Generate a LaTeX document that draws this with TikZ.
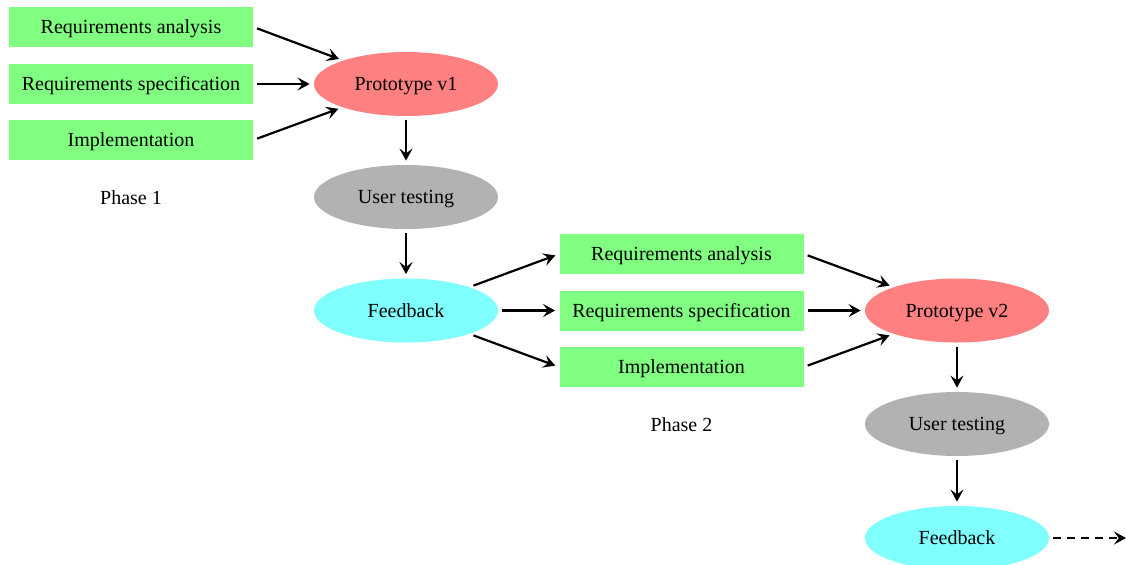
\documentclass[tikz,border=0pt]{standalone}
\usepackage{fontspec}
\setmainfont{Liberation Serif}
\usetikzlibrary{shapes.geometric,arrows.meta}
\definecolor{boxgreen}{RGB}{128,255,128}
\definecolor{protored}{RGB}{255,128,128}
\definecolor{testgray}{RGB}{178,178,178}
\definecolor{feedcyan}{RGB}{128,255,255}
\tikzset{
  px/.style={x=0.5pt,y=-0.5pt},
  txt/.style={font=\fontsize{10}{12}\selectfont,text height=7.6pt,text depth=1pt},
  stepbox/.style={rectangle,fill=boxgreen,minimum width=122pt,minimum height=20pt,inner sep=0pt,txt},
  blob/.style={ellipse,minimum width=92pt,minimum height=32pt,inner sep=0pt,txt},
  proto/.style={blob,fill=protored},
  utest/.style={blob,fill=testgray},
  fback/.style={blob,fill=feedcyan},
  phase/.style={txt},
  conn/.style={-{Stealth[length=6pt,width=6.5pt,inset=2.4pt]},line width=1.1pt,shorten <=2pt,shorten >=2pt}
}
\begin{document}
\begin{tikzpicture}[px]
\useasboundingbox (0,0) rectangle (1126,564);
% Phase 1
\node[stepbox] (ra1) at (131,27) {Requirements analysis};
\node[stepbox] (rs1) at (131,84) {Requirements specification};
\node[stepbox] (im1) at (131,140) {Implementation};
\node[phase] (ph1) at (131,198) {Phase 1};
\node[proto] (p1) at (406,84) {Prototype v1};
\node[utest] (u1) at (406,197) {User testing};
\node[fback] (f1) at (406,310.5) {Feedback};
% Phase 2
\node[stepbox] (ra2) at (681.5,254) {Requirements analysis};
\node[stepbox] (rs2) at (681.5,310.5) {Requirements specification};
\node[stepbox] (im2) at (681.5,367) {Implementation};
\node[phase] (ph2) at (681.5,425) {Phase 2};
\node[proto] (p2) at (957,310.5) {Prototype v2};
\node[utest] (u2) at (957,424) {User testing};
\node[fback] (f2) at (957,538) {Feedback};
\coordinate (next) at (1127,538);
% connectors
\draw[conn] (ra1.east) -- (p1);
\draw[conn] (rs1.east) -- (p1);
\draw[conn] (im1.east) -- (p1);
\draw[conn] (p1) -- (u1);
\draw[conn] (u1) -- (f1);
\draw[conn] (f1) -- (ra2.west);
\draw[conn] (f1) -- (rs2.west);
\draw[conn] (f1) -- (im2.west);
\draw[conn] (ra2.east) -- (p2);
\draw[conn] (rs2.east) -- (p2);
\draw[conn] (im2.east) -- (p2);
\draw[conn] (p2) -- (u2);
\draw[conn] (u2) -- (f2);
\draw[conn,dash pattern=on 4pt off 3pt,shorten >=0.5pt] (f2) -- (next);
\end{tikzpicture}
\end{document}
